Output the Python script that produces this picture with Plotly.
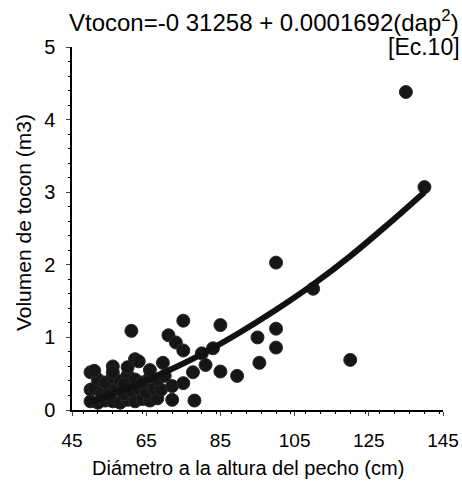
import plotly.graph_objects as go

dap = [50, 52, 54, 56, 58, 60, 62, 64, 66, 68, 72, 78,
       50, 51, 53, 55, 57, 59, 61, 63, 65, 67, 69, 72, 75,
       52, 54, 56, 58, 60, 62, 64, 66, 68, 70,
       50, 51, 56, 56, 60, 62, 63, 66, 69.5, 59,
       61, 71, 73, 75, 75, 77.6, 81, 80, 83, 85, 85, 89.5,
       95, 95.5, 100, 100, 100, 110, 120, 135, 140]
vol = [0.12, 0.10, 0.13, 0.12, 0.10, 0.14, 0.12, 0.15, 0.13, 0.16, 0.14, 0.13,
       0.28, 0.30, 0.22, 0.26, 0.30, 0.22, 0.27, 0.30, 0.24, 0.30, 0.28, 0.33, 0.37,
       0.42, 0.38, 0.45, 0.40, 0.48, 0.42, 0.38, 0.45, 0.42, 0.47,
       0.52, 0.54, 0.60, 0.52, 0.59, 0.70, 0.67, 0.55, 0.65, 0.35,
       1.09, 1.03, 0.93, 0.82, 1.23, 0.52, 0.62, 0.78, 0.85, 1.17, 0.53, 0.47,
       1.00, 0.65, 2.03, 1.12, 0.86, 1.67, 0.69, 4.38, 3.07]

# Fitted curve
fit_x = [50, 60, 70, 80, 90, 100, 110, 120, 130, 140]
fit_y = [0.11, 0.30, 0.52, 0.77, 1.06, 1.38, 1.73, 2.12, 2.55, 3.00]

x_ticks = [45, 65, 85, 105, 125, 145]
y_ticks = [0, 1, 2, 3, 4, 5]

fig = go.Figure()
fig.add_trace(go.Scatter(
    x=dap, y=vol, mode="markers",
    marker=dict(size=13, color="#161616", line=dict(color="#2a2a2a", width=1)),
    showlegend=False, cliponaxis=False))
fig.add_trace(go.Scatter(
    x=fit_x, y=fit_y, mode="lines", line=dict(color="#111111", width=6, shape="spline"),
    showlegend=False))

font_family = "Liberation Sans, Arial, sans-serif"

fig.update_layout(
    width=462, height=491,
    margin=dict(l=72, r=19, t=47, b=81, autoexpand=False),
    paper_bgcolor="white", plot_bgcolor="white",
    font=dict(family=font_family, color="black"),
    xaxis=dict(range=[45, 145], tickvals=x_ticks, ticks="outside", ticklen=4,
               showline=True, linecolor="black", linewidth=1.5, showgrid=False,
               zeroline=False, tickfont=dict(size=19), automargin=False,
               ticklabelstandoff=8,
               minor=dict(dtick=4, ticks="outside", ticklen=2, tickcolor="black")),
    yaxis=dict(range=[0, 5], tickvals=y_ticks, ticks="outside", ticklen=4,
               showline=True, linecolor="black", linewidth=1.5, showgrid=False,
               zeroline=False, tickfont=dict(size=20), automargin=False,
               ticklabelstandoff=7,
               minor=dict(dtick=0.2, ticks="outside", ticklen=2, tickcolor="black")),
    annotations=[
        dict(text="Vtocon=-0 31258 + 0.0001692(dap<sup>2</sup>)", xref="paper", yref="paper",
             x=1.049, y=1.072, xanchor="right", yanchor="middle",
             showarrow=False, font=dict(size=24, family=font_family)),
        dict(text="[Ec.10]", xref="paper", yref="paper",
             x=1.051, y=1.001, xanchor="right", yanchor="middle",
             showarrow=False, font=dict(size=23, family=font_family)),
        dict(text="Diámetro a la altura del pecho (cm)", xref="paper", yref="paper",
             x=0.474, y=-0.160, xanchor="center", yanchor="middle",
             showarrow=False, font=dict(size=20, family=font_family)),
        dict(text="Volumen de tocon (m3)", xref="paper", yref="paper",
             x=-0.132, y=0.515, xanchor="center", yanchor="middle", textangle=-90,
             showarrow=False, font=dict(size=21, family=font_family)),
    ],
)

fig.write_html("out.html", config={"displayModeBar": False},
               post_script="document.body.style.margin='0';")
